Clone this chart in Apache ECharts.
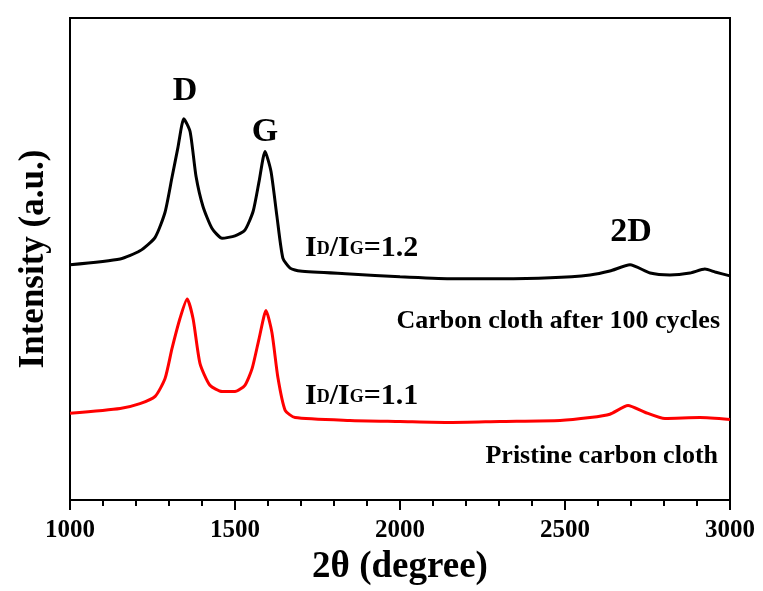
<!DOCTYPE html>
<html>
<head>
<meta charset="utf-8">
<script src="https://cdn.jsdelivr.net/npm/echarts@6/dist/echarts.min.js"></script>
<style>
  html, body { margin: 0; padding: 0; background: #fff; }
  #main { width: 763px; height: 591px; }
</style>
</head>
<body>
<div id="main"></div>
<script>
// Raman shift positions (x) and intensities (a.u., offset curves)
var afterX = [1000, 1152, 1212, 1258, 1288, 1309, 1327, 1345, 1364, 1382, 1403, 1430, 1461, 1500, 1530, 1555, 1573, 1591, 1609, 1627, 1645, 1667, 1697, 1848, 2000, 2152, 2303, 2455, 2576, 2636, 2697, 2758, 2818, 2879, 2924, 2955, 3000];
var afterY = [48.8, 50.0, 51.7, 54.5, 59.7, 66.9, 73.1, 79.1, 76.4, 67.1, 60.9, 56.4, 54.3, 54.8, 56.0, 59.9, 66.1, 72.3, 68.2, 58.9, 50.2, 48.1, 47.5, 46.9, 46.3, 45.9, 45.9, 46.1, 46.7, 47.5, 48.8, 47.1, 46.7, 47.1, 47.9, 47.3, 46.5];

var pristineX = [1000, 1152, 1212, 1258, 1288, 1309, 1333, 1355, 1373, 1394, 1424, 1461, 1500, 1530, 1552, 1573, 1594, 1612, 1630, 1652, 1682, 1848, 2000, 2152, 2303, 2485, 2576, 2636, 2691, 2742, 2803, 2909, 3000];
var pristineY = [18.0, 19.0, 20.0, 21.5, 25.2, 31.4, 37.6, 41.7, 37.6, 28.3, 23.8, 22.5, 22.5, 23.8, 27.3, 33.5, 39.3, 34.7, 25.4, 18.6, 17.1, 16.5, 16.3, 16.1, 16.3, 16.5, 17.1, 17.8, 19.6, 18.2, 16.9, 17.1, 16.7];

var xTicks = [1000, 1500, 2000, 2500, 3000];

function pairs(xs, ys) {
  return xs.map(function (x, i) { return [x, ys[i]]; });
}

var chartDom = document.getElementById('main');
var myChart = echarts.init(chartDom);
var serif = '"Liberation Serif", "Times New Roman", serif';

// subscript letters sit on the baseline in the original, just smaller
var ratioRich = {
  b: { fontFamily: serif, fontWeight: 'bold', fontSize: 30, color: '#000' },
  s: { fontFamily: serif, fontWeight: 'bold', fontSize: 18, color: '#000', verticalAlign: 'bottom', padding: [0, 0, 5, 0] }
};

function note(x, y, text, size, align) {
  return {
    type: 'text', x: x, y: y,
    style: {
      text: text, font: 'bold ' + size + 'px ' + serif, fill: '#000',
      textAlign: align || 'center', textVerticalAlign: 'middle'
    }
  };
}

var option = {
  animation: false,
  backgroundColor: '#fff',
  textStyle: { fontFamily: serif },
  grid: {
    left: 70, right: 33, top: 18, bottom: 89,
    show: true, borderColor: '#000', borderWidth: 2
  },
  xAxis: {
    type: 'value',
    min: xTicks[0],
    max: xTicks[xTicks.length - 1],
    interval: 500,
    name: '2θ (degree)',
    nameLocation: 'middle',
    nameGap: 49,
    nameTextStyle: { fontFamily: serif, fontWeight: 'bold', fontSize: 37, color: '#000' },
    axisLine: { lineStyle: { color: '#000', width: 2 } },
    axisTick: { inside: false, length: 10, lineStyle: { color: '#000', width: 2 } },
    minorTick: { show: true, splitNumber: 5, length: 6, lineStyle: { color: '#000', width: 2 } },
    splitLine: { show: false },
    axisLabel: {
      fontFamily: serif, fontWeight: 'bold', fontSize: 25, color: '#000', margin: 18,
      formatter: function (v) { return String(v); }
    }
  },
  yAxis: {
    type: 'value',
    min: 0,
    max: 100,
    name: 'Intensity (a.u.)',
    nameLocation: 'middle',
    nameGap: 19,
    nameTextStyle: { fontFamily: serif, fontWeight: 'bold', fontSize: 35, color: '#000' },
    axisLine: { show: true, lineStyle: { color: '#000', width: 2 } },
    axisTick: { show: false },
    axisLabel: { show: false },
    splitLine: { show: false }
  },
  series: [
    {
      name: 'Carbon cloth after 100 cycles',
      type: 'line',
      data: pairs(afterX, afterY),
      showSymbol: false,
      smooth: 0.2,
      lineStyle: { color: '#000', width: 3 }
    },
    {
      name: 'Pristine carbon cloth',
      type: 'line',
      data: pairs(pristineX, pristineY),
      showSymbol: false,
      smooth: 0.2,
      lineStyle: { color: '#ff0000', width: 3 }
    }
  ],
  graphic: [
    note(185, 91, 'D', 34),
    note(265, 132, 'G', 34),
    note(631, 232, '2D', 34),
    { type: 'text', x: 305, y: 248, style: {
        text: '{b|I}{s|D}{b|/I}{s|G}{b|=1.2}', rich: ratioRich, textVerticalAlign: 'middle'
    } },
    { type: 'text', x: 305, y: 396, style: {
        text: '{b|I}{s|D}{b|/I}{s|G}{b|=1.1}', rich: ratioRich, textVerticalAlign: 'middle'
    } },
    note(720, 321, 'Carbon cloth after 100 cycles', 26, 'right'),
    note(718, 456, 'Pristine carbon cloth', 26, 'right')
  ]
};

option && myChart.setOption(option);
</script>
</body>
</html>
